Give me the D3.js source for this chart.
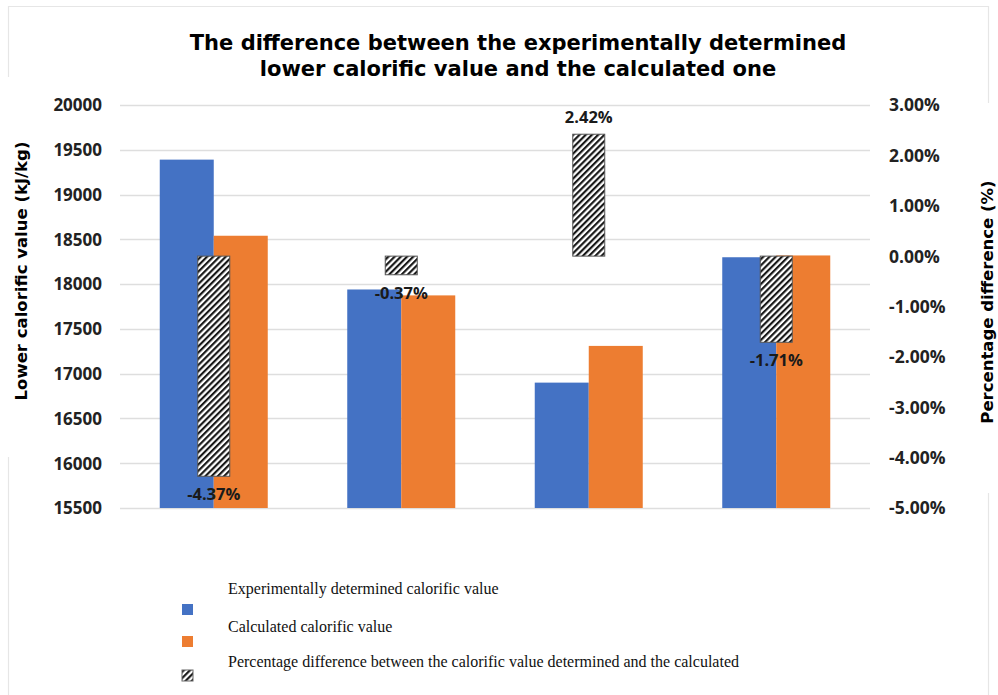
<!DOCTYPE html>
<html>
<head>
<meta charset="utf-8">
<script src="https://cdn.jsdelivr.net/npm/d3@7"></script>
<style>
  html, body { margin: 0; padding: 0; background: #fff; }
  svg { display: block; }
</style>
</head>
<body>
<svg id="chart" width="998" height="695"></svg>
<script>
// ---- data ----
const categories = ["Sample 1", "Sample 2", "Sample 3", "Sample 4"];
const experimental = [19390, 17940, 16900, 18300];
const calculated = [18540, 17874, 17310, 18320];
const percentDiff = [-0.0437, -0.0037, 0.0242, -0.0171];
const leftTicks = [15500, 16000, 16500, 17000, 17500, 18000, 18500, 19000, 19500, 20000];
const rightTicks = [-0.05, -0.04, -0.03, -0.02, -0.01, 0, 0.01, 0.02, 0.03];
const seriesNames = ["Experimentally determined calorific value", "Calculated calorific value",
  "Percentage difference between the calorific value determined and the calculated"];
const titleLines = ["The difference between the experimentally determined", "lower calorific value and the calculated one"];
const leftTitle = "Lower calorific value (kJ/kg)";
const rightTitle = "Percentage difference (%)";

// ---- layout ----
const svg = d3.select("#chart");
const plot = { left: 120, right: 870, top: 105, bottom: 508 };
const blue = "#4472C4", orange = "#ED7D31";

const defs = svg.append("defs");
const pat = defs.append("pattern").attr("id", "hatch")
  .attr("patternUnits", "userSpaceOnUse").attr("width", 4.4).attr("height", 4.4)
  .attr("patternTransform", "rotate(45)");
pat.append("rect").attr("width", 4.4).attr("height", 4.4).attr("fill", "#fff");
pat.append("line").attr("x1", 1.1).attr("y1", 0).attr("x2", 1.1).attr("y2", 4.4)
  .attr("stroke", "#111").attr("stroke-width", 2.1);

// frame segments
const frame = svg.append("g").attr("stroke", "#e6e6e6").attr("stroke-width", 1.2).attr("fill", "none");
frame.append("line").attr("x1", 8).attr("y1", 6.5).attr("x2", 988).attr("y2", 6.5);
frame.append("line").attr("x1", 8.5).attr("y1", 6).attr("x2", 8.5).attr("y2", 77);
frame.append("line").attr("x1", 8.5).attr("y1", 457).attr("x2", 8.5).attr("y2", 695);
frame.append("line").attr("x1", 988.5).attr("y1", 6).attr("x2", 988.5).attr("y2", 103);
frame.append("line").attr("x1", 988.5).attr("y1", 493).attr("x2", 988.5).attr("y2", 695);

// scales
const x0 = d3.scaleBand().domain(categories).range([plot.left, plot.right]);
const groupW = x0.bandwidth() * 0.576;
const x1 = d3.scaleBand().domain(["exp", "calc"])
  .range([(x0.bandwidth() - groupW) / 2, (x0.bandwidth() + groupW) / 2]);
const yL = d3.scaleLinear().domain([15500, 20000]).range([plot.bottom, plot.top]);
const yR = d3.scaleLinear().domain([-0.05, 0.03]).range([plot.bottom, plot.top]);

// gridlines
svg.append("g").selectAll("line").data(leftTicks).join("line")
  .attr("x1", plot.left).attr("x2", plot.right)
  .attr("y1", d => Math.round(yL(d)) + 0.5).attr("y2", d => Math.round(yL(d)) + 0.5)
  .attr("stroke", "#dedede").attr("stroke-width", 1.3);

// left axis
const axL = svg.append("g").attr("transform", `translate(${plot.left - 18},0)`)
  .call(d3.axisLeft(yL).tickValues(leftTicks).tickSize(0).tickPadding(0).tickFormat(d3.format("d")));
axL.select(".domain").remove();
axL.selectAll("text").attr("font-family", "'Open Sans', sans-serif").attr("font-weight", "bold")
  .attr("font-size", "17px").attr("fill", "#222").attr("dy", "0.34em");

// right axis
const axR = svg.append("g").attr("transform", `translate(${plot.right + 19},0)`)
  .call(d3.axisRight(yR).tickValues(rightTicks).tickSize(0).tickPadding(0).tickFormat(d3.format(".2%")));
axR.select(".domain").remove();
axR.selectAll("text").attr("font-family", "'Open Sans', sans-serif").attr("font-weight", "bold")
  .attr("font-size", "17.5px").attr("fill", "#222").attr("dy", "0.34em")
  .text(d => d3.format(".2%")(d).replace("−", "-"));

// bars
const groups = svg.append("g").selectAll("g").data(categories).join("g")
  .attr("transform", d => `translate(${x0(d)},0)`);
groups.append("rect")
  .attr("x", x1("exp")).attr("width", x1.bandwidth())
  .attr("y", (d, i) => yL(experimental[i])).attr("height", (d, i) => yL(15500) - yL(experimental[i]))
  .attr("fill", blue);
groups.append("rect")
  .attr("x", x1("calc")).attr("width", x1.bandwidth())
  .attr("y", (d, i) => yL(calculated[i])).attr("height", (d, i) => yL(15500) - yL(calculated[i]))
  .attr("fill", orange);

// percentage bars (hatched)
const hw = 32;
groups.append("rect")
  .attr("x", x0.bandwidth() / 2 - hw / 2).attr("width", hw)
  .attr("y", (d, i) => Math.min(yR(0), yR(percentDiff[i])))
  .attr("height", (d, i) => Math.abs(yR(percentDiff[i]) - yR(0)))
  .attr("fill", "url(#hatch)").attr("stroke", "#555").attr("stroke-width", 1);

// labels
groups.append("text")
  .attr("x", x0.bandwidth() / 2)
  .attr("y", (d, i) => percentDiff[i] < 0 ? yR(percentDiff[i]) + 18 : yR(percentDiff[i]) - 17)
  .attr("dy", "0.35em").attr("text-anchor", "middle")
  .attr("font-family", "'Open Sans', sans-serif").attr("font-weight", "bold").attr("font-size", "16.5px")
  .attr("fill", "#1a1a1a")
  .text((d, i) => d3.format(".2%")(percentDiff[i]).replace("−", "-"));

// title
svg.append("g").selectAll("text").data(titleLines).join("text")
  .attr("x", 518).attr("y", (d, i) => 50 + i * 26).attr("text-anchor", "middle")
  .attr("font-family", "'DejaVu Sans', sans-serif").attr("font-weight", "bold").attr("font-size", "21px")
  .attr("fill", "#000").text(d => d);

// axis titles
svg.append("text").attr("transform", "translate(27,271) rotate(-90)").attr("text-anchor", "middle")
  .attr("font-family", "'DejaVu Sans', sans-serif").attr("font-weight", "bold").attr("font-size", "16.5px")
  .attr("fill", "#000").text(leftTitle);
svg.append("text").attr("transform", "translate(993,302) rotate(-90)").attr("text-anchor", "middle")
  .attr("font-family", "'DejaVu Sans', sans-serif").attr("font-weight", "bold").attr("font-size", "16.5px")
  .attr("fill", "#000").text(rightTitle);

// legend
const legFills = [blue, orange, "url(#hatch)"];
const leg = svg.append("g").selectAll("g").data(seriesNames).join("g");
leg.append("text").attr("x", 228).attr("y", (d, i) => [594, 632, 667][i])
  .attr("font-family", "'Liberation Serif', 'Times New Roman', serif").attr("font-size", "16px")
  .attr("fill", "#111").text(d => d);
leg.append("rect").attr("x", 182).attr("y", (d, i) => [604, 636, 670][i])
  .attr("width", 11).attr("height", 11)
  .attr("fill", (d, i) => legFills[i])
  .attr("stroke", (d, i) => i === 2 ? "#666" : "none");
</script>
</body>
</html>
